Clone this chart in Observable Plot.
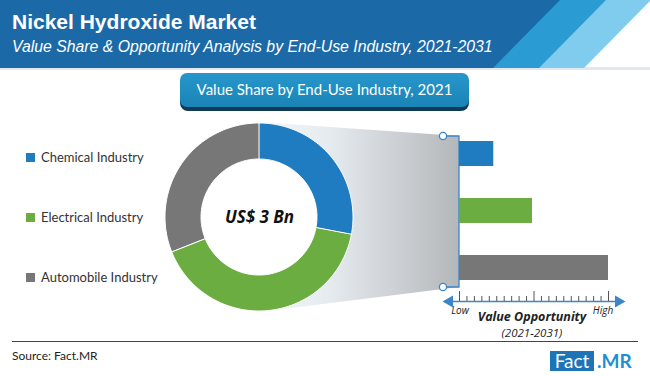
<!DOCTYPE html>
<html><head><meta charset="utf-8">
<script src="https://cdn.jsdelivr.net/npm/d3@7"></script>
<script src="https://cdn.jsdelivr.net/npm/@observablehq/plot@0.6"></script>
<style>
body{margin:0;background:#fff;}
#chart{position:relative;width:650px;height:376px;overflow:hidden;background:#fff;}
#chart > svg, #chart > figure, #chart > div{position:absolute;margin:0;}
</style></head><body><div id="chart"></div>
<script>
// ---- data ----
const title = "Nickel Hydroxide Market";
const subtitle = "Value Share & Opportunity Analysis by End-Use Industry, 2021-2031";
const panelTitle = "Value Share by End-Use Industry, 2021";
const categories = ["Chemical Industry", "Electrical Industry", "Automobile Industry"];
const shares = [28, 41, 31];            // % share of 2021 value
const opportunity = [2.3, 4.9, 10];     // relative value opportunity 2021-2031 (Low..High)
const colors = ["#1f7cc1", "#6cad42", "#777777"];
const centerLabel = "US$ 3 Bn";
const axisEnds = ["Low", "High"];
const axisTitle = ["Value Opportunity", "(2021-2031)"];
const sourceText = "Source: Fact.MR";

const root = document.getElementById("chart");
const NS = "http://www.w3.org/2000/svg";

// ---- static decoration (header, panel pill, funnel, legend, footer) ----
const deco = document.createElementNS(NS, "svg");
deco.setAttribute("width", 650); deco.setAttribute("height", 376);
deco.style.left = "0px"; deco.style.top = "0px";
deco.innerHTML = `
<defs>
  <linearGradient id="fun" x1="0" x2="1" y1="0" y2="0">
    <stop offset="0" stop-color="#f3f7fb"/>
    <stop offset="0.35" stop-color="#e6ebf0"/>
    <stop offset="1" stop-color="#b4b7ba"/>
  </linearGradient>
  <linearGradient id="pill" x1="0" x2="0" y1="0" y2="1">
    <stop offset="0" stop-color="#2697cb"/>
    <stop offset="1" stop-color="#1b83b6"/>
  </linearGradient>
</defs>
<rect x="0" y="67" width="650" height="3" fill="#e3e8ee"/>
<polygon points="0,0 570,0 503,68 0,68" fill="#1c69a8"/>
<polygon points="560,0 612,0 545,68 493,68" fill="#2b9bd4"/>
<polygon points="606,0 650,0 650,1 584,68 539,68" fill="#80ccee"/>
<text x="12" y="29" fill="#fff" font-family="'Liberation Sans',Arial,sans-serif" font-weight="bold" font-size="21">${title}</text>
<text x="12" y="52" fill="#fff" font-family="'Liberation Sans',Arial,sans-serif" font-style="italic" font-size="15.8">${subtitle}</text>
<rect x="180" y="77" width="289" height="34" rx="8" fill="#0f3b57"/>
<rect x="180" y="73" width="289" height="34" rx="7" fill="url(#pill)"/>
<text x="324.5" y="95" text-anchor="middle" fill="#fff" font-family="Lato,'Open Sans',sans-serif" font-size="15">${panelTitle}</text>
<polygon points="259,122 459,136 459,287 259,312" fill="url(#fun)"/>
<g fill="#333" font-family="Lato,'Open Sans',sans-serif" font-size="13">
  ${categories.map((c, i) => `<rect x="26" y="${153 + i * 60}" width="9" height="9" fill="${colors[i]}"/><text x="41" y="${162 + i * 60}">${c}</text>`).join("")}
</g>
<g font-family="'Open Sans',sans-serif" fill="#222" text-anchor="middle" font-style="italic">
  <text x="460" y="314" font-size="10">${axisEnds[0]}</text>
  <text x="603" y="314" font-size="10">${axisEnds[1]}</text>
  <text x="532" y="321" font-size="12.5" font-weight="bold">${axisTitle[0]}</text>
  <text x="532" y="337" font-size="11.5">${axisTitle[1]}</text>
</g>
<line x1="12" x2="638" y1="341.5" y2="341.5" stroke="#444" stroke-width="1"/>
<text x="12" y="360" fill="#222" font-family="Lato,'Open Sans',sans-serif" font-size="12">${sourceText}</text>
<rect x="550" y="351" width="44" height="20" fill="#1d74b7"/>
<text x="572" y="368" text-anchor="middle" fill="#fff" font-family="Lato,'Open Sans',sans-serif" font-size="19">Fact</text>
<text x="597" y="368" fill="#1f8fd3" font-family="Lato,'Open Sans',sans-serif" font-weight="bold" font-size="19">.MR</text>
`;
root.appendChild(deco);

// ---- donut (value share) ----
const pie = d3.pie().sort(null).value(d => d.share)(categories.map((c, i) => ({category: c, share: shares[i]})));
const inner = 0.617;
const ring = pie.flatMap(p => d3.range(0, 81).map(k => {
  const t = p.startAngle + (p.endAngle - p.startAngle) * k / 80;
  return {category: p.data.category, ox: Math.sin(t), oy: Math.cos(t), ix: inner * Math.sin(t), iy: inner * Math.cos(t)};
}));
// white hole: filled disc from centre to the inner radius
const hole = d3.range(0, 121).map(k => {
  const t = 2 * Math.PI * k / 120;
  return {x: inner * Math.sin(t), y: inner * Math.cos(t)};
});
const dSize = 192, dMargin = 2;
const donut = Plot.plot({
  width: dSize, height: dSize, margin: dMargin,
  x: {domain: [-1, 1], axis: null},
  y: {domain: [-1, 1], axis: null},
  color: {domain: categories, range: colors},
  marks: [
    Plot.area(hole, {x1: 0, y1: 0, x2: "x", y2: "y", fill: "#fff"}),
    Plot.area(ring, {x1: "ix", y1: "iy", x2: "ox", y2: "oy", z: "category", fill: "category", stroke: "#fff", strokeWidth: 1}),
    Plot.text([centerLabel], {frameAnchor: "middle", text: d => d, fontSize: 17, fontWeight: "bold", fontStyle: "italic", fill: "#111", fontFamily: "'Open Sans',sans-serif"})
  ]
});
donut.style.left = "163px"; donut.style.top = "121px";
root.appendChild(donut);

// ---- connector to bars ----
const conn = document.createElementNS(NS, "svg");
conn.setAttribute("width", 650); conn.setAttribute("height", 376);
conn.style.left = "0px"; conn.style.top = "0px";
conn.innerHTML = `
<g stroke="#3a86c8" stroke-width="1.3" fill="none">
  <path d="M443,136H459V287H443"/>
  <circle cx="443" cy="136" r="3.6" fill="#fff"/>
  <circle cx="443" cy="287" r="3.6" fill="#fff"/>
</g>`;
root.appendChild(conn);

// ---- bars (value opportunity) ----
const barData = categories.map((c, i) => ({category: c, value: opportunity[i]}));
const bars = Plot.plot({
  width: 190, height: 171, marginLeft: 19, marginRight: 22, marginTop: 0, marginBottom: 0,
  x: {domain: [0, 10], axis: null},
  y: {domain: categories, axis: null, paddingInner: 0.56, paddingOuter: 0.28},
  color: {domain: categories, range: colors},
  marks: [Plot.barX(barData, {x: "value", y: "category", fill: "category"})]
});
bars.style.left = "440px"; bars.style.top = "125px";
root.appendChild(bars);

// ---- Low..High axis ----
const ticks = d3.range(0, 10.001, 0.5);
const axis = Plot.plot({
  width: 190, height: 24, marginLeft: 4, marginRight: 7, marginTop: 0, marginBottom: 0,
  x: {domain: [0, 10], range: [19, 168], axis: null},
  y: {domain: [0, 1], range: [17, 7], axis: null},
  marks: [
    Plot.ruleY([0], {stroke: "#3a86c8", strokeWidth: 1.5}),
    Plot.ruleX(ticks, {x: d => d, y1: 0, y2: d => (d % 5 === 0 ? 1 : 0.5), stroke: "#555", strokeWidth: 1}),
    Plot.dot([0], {frameAnchor: "left", y: 0, symbol: "triangle", r: 4.5, rotate: -90, dx: 5, fill: "#3a86c8", stroke: "none"}),
    Plot.dot([0], {frameAnchor: "right", y: 0, symbol: "triangle", r: 4.5, rotate: 90, dx: -5, fill: "#3a86c8", stroke: "none"})
  ]
});
axis.style.left = "440px"; axis.style.top = "284px";
root.appendChild(axis);
</script></body></html>
